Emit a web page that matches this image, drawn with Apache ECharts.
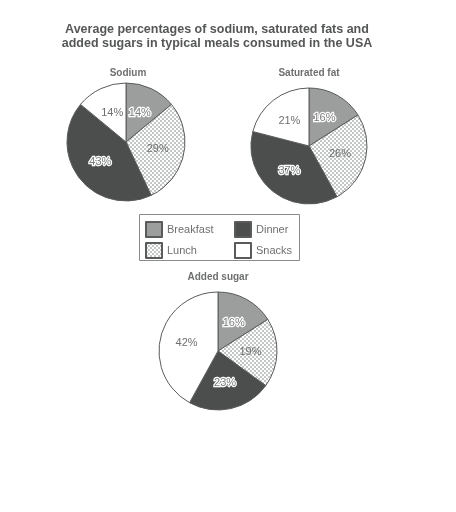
<!DOCTYPE html>
<html><head><meta charset="utf-8">
<script src="https://cdn.jsdelivr.net/npm/echarts@6/dist/echarts.min.js"></script>
<style>html,body{margin:0;padding:0;background:#fff}#c{width:456px;height:512px}</style>
</head><body><div id="c"></div>
<script>
const categories = ['Breakfast', 'Lunch', 'Dinner', 'Snacks'];
const sodium = [14, 29, 43, 14];
const saturatedFat = [16, 26, 37, 21];
const addedSugar = [16, 19, 23, 42];
const titleLines = ['Average percentages of sodium, saturated fats and', 'added sugars in typical meals consumed in the USA'];
const pieTitles = ['Sodium', 'Saturated fat', 'Added sugar'];

const FONT = '"Liberation Sans", Arial, sans-serif';
// crosshatch pattern for Lunch
const pc = document.createElement('canvas');
pc.width = 4; pc.height = 4;
const pctx = pc.getContext('2d');
pctx.fillStyle = '#ffffff'; pctx.fillRect(0, 0, 4, 4);
pctx.fillStyle = '#c4c6c5';
pctx.fillRect(0, 0, 2, 2); pctx.fillRect(2, 2, 2, 2);
const lunchPattern = { image: pc, repeat: 'repeat' };

const sliceColors = ['#9c9e9d', lunchPattern, '#4b4e4d', '#ffffff'];
const haloed = [true, false, true, false];

function mkData(vals) {
  return categories.map((c, i) => ({
    name: c, value: vals[i],
    itemStyle: { color: sliceColors[i] },
    label: haloed[i]
      ? { color: '#7a7c7b', textBorderColor: '#ffffff', textBorderWidth: 2.5 }
      : { color: '#6e706f' }
  }));
}
function mkPie(vals, cx, cy, r) {
  return {
    type: 'pie', center: [cx, cy], radius: [0, r], startAngle: 90, clockwise: true,
    animation: false, silent: true,
    itemStyle: { borderColor: '#5a5c5b', borderWidth: 1 },
    label: { show: true, position: 'inside', formatter: '{c}%', fontSize: 11, fontFamily: FONT },
    labelLine: { show: false },
    emphasis: { disabled: true },
    data: mkData(vals)
  };
}

const chart = echarts.init(document.getElementById('c'), null, { renderer: 'canvas' });
chart.setOption({
  backgroundColor: '#ffffff',
  animation: false,
  legend: [
    { data: [categories[0], categories[1]], orient: 'vertical', left: 145, top: 221, padding: 0, itemWidth: 16, itemHeight: 15, itemGap: 4,
      icon: 'rect', selectedMode: false, textStyle: { color: '#6e706f', fontSize: 11, fontFamily: FONT } },
    { data: [categories[2], categories[3]], orient: 'vertical', left: 234, top: 221, padding: 0, itemWidth: 16, itemHeight: 15, itemGap: 4,
      icon: 'rect', selectedMode: false, textStyle: { color: '#6e706f', fontSize: 11, fontFamily: FONT } }
  ],
  graphic: [
    { type: 'text', x: 217, y: 30, style: { text: titleLines[0], font: 'bold 12.5px ' + FONT, fill: '#555756', textAlign: 'center', textVerticalAlign: 'middle' } },
    { type: 'text', x: 217, y: 44, style: { text: titleLines[1], font: 'bold 12.5px ' + FONT, fill: '#555756', textAlign: 'center', textVerticalAlign: 'middle' } },
    { type: 'text', x: 128, y: 73, style: { text: pieTitles[0], font: 'bold 10px ' + FONT, fill: '#6e706f', textAlign: 'center', textVerticalAlign: 'middle' } },
    { type: 'text', x: 309, y: 73, style: { text: pieTitles[1], font: 'bold 10px ' + FONT, fill: '#6e706f', textAlign: 'center', textVerticalAlign: 'middle' } },
    { type: 'text', x: 218, y: 277, style: { text: pieTitles[2], font: 'bold 10px ' + FONT, fill: '#6e706f', textAlign: 'center', textVerticalAlign: 'middle' } },
    { type: 'rect', shape: { x: 139.5, y: 214.5, width: 160, height: 46 }, style: { fill: 'none', stroke: '#8a8c8b', lineWidth: 1 } }
  ],
  series: [
    mkPie(sodium, 126, 142, 59),
    mkPie(saturatedFat, 309, 146, 58),
    mkPie(addedSugar, 218, 351, 59)
  ]
});
</script>
</body></html>
